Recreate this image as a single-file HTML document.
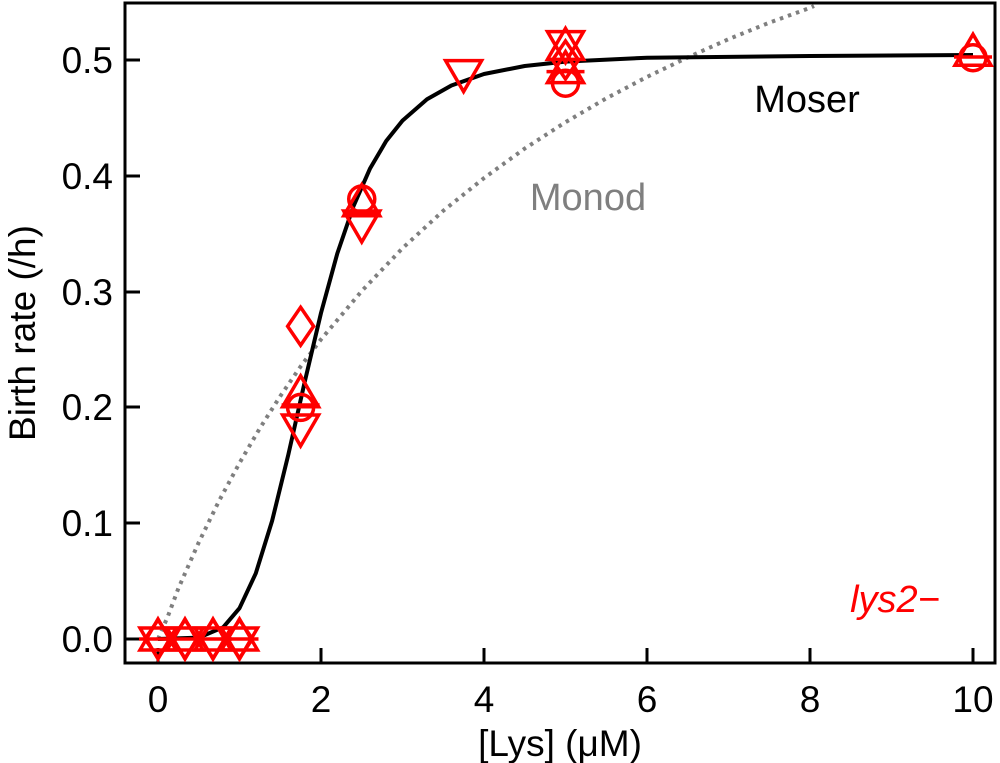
<!DOCTYPE html>
<html><head><meta charset="utf-8"><style>body{margin:0;background:#fff}svg{display:block}text{font-family:"Liberation Sans",Arial,sans-serif}</style></head><body>
<svg width="1000" height="763" viewBox="0 0 1000 763" xmlns="http://www.w3.org/2000/svg">
<defs>
<path id="up" d="M0 -20L18 11L-18 11Z" fill="none" stroke="#ff0000" stroke-width="3.5"/>
<path id="dn" d="M0 20L18 -11L-18 -11Z" fill="none" stroke="#ff0000" stroke-width="3.5"/>
<path id="di" d="M0 -19L13 0L0 19L-13 0Z" fill="none" stroke="#ff0000" stroke-width="3.5"/>
<circle id="ci" r="13" fill="none" stroke="#ff0000" stroke-width="3.5"/>
<line id="ln" x1="-19" x2="19" y1="0" y2="0" stroke="#ff0000" stroke-width="3.5"/>
</defs>
<rect x="125" y="3" width="870" height="660" fill="none" stroke="#000" stroke-width="3"/>
<g stroke="#000" stroke-width="3">
<line x1="158" y1="663" x2="158" y2="648"/><line x1="321" y1="663" x2="321" y2="648"/><line x1="484" y1="663" x2="484" y2="648"/><line x1="647" y1="663" x2="647" y2="648"/><line x1="810" y1="663" x2="810" y2="648"/><line x1="973" y1="663" x2="973" y2="648"/>
<line x1="125" y1="639" x2="140" y2="639"/><line x1="125" y1="523" x2="140" y2="523"/><line x1="125" y1="407" x2="140" y2="407"/><line x1="125" y1="292" x2="140" y2="292"/><line x1="125" y1="176" x2="140" y2="176"/><line x1="125" y1="60" x2="140" y2="60"/>
</g>
<g font-size="37" text-anchor="middle">
<text x="158" y="712">0</text><text x="321" y="712">2</text><text x="484" y="712">4</text><text x="647" y="712">6</text><text x="810" y="712">8</text><text x="973" y="712">10</text>
</g>
<g font-size="37" text-anchor="end">
<text x="113" y="652">0.0</text><text x="113" y="536">0.1</text><text x="113" y="420">0.2</text><text x="113" y="305">0.3</text><text x="113" y="189">0.4</text><text x="113" y="73">0.5</text>
</g>
<text x="560" y="756" font-size="37" text-anchor="middle">[Lys] (μM)</text>
<text transform="translate(35,333) rotate(-90)" font-size="37" text-anchor="middle">Birth rate (/h)</text>
<text x="807" y="112" font-size="38" text-anchor="middle">Moser</text>
<text x="588" y="210" font-size="38" text-anchor="middle" fill="#7f7f7f">Monod</text>
<text x="895" y="612" font-size="38" text-anchor="middle" fill="#ff0000" font-style="italic">lys2−</text>
<polyline fill="none" stroke="#7f7f7f" stroke-width="4" stroke-dasharray="3.5,5" points="158,639 168,616 178.4,588.3 198.75,542.4 219,501 239.5,463 260,428 280.25,396.2 300.6,366.5 321,339.4 361.75,291 402.5,248.2 443,211 484,178.1 524.75,148.5 565.5,122.2 606,98.5 647,76.9 688,57.3 728.5,39.2 769,22.8 810,7.9 814,6"/>
<polyline fill="none" stroke="#000" stroke-width="4" stroke-linejoin="round" points="158,639 198.75,637.6 223.2,627.3 239.5,608.2 255.8,573.3 272.1,520.9 288.4,454.3 304.7,382 321,313 337.3,253.5 353.6,205.9 369.9,168.8 386.2,141 402.5,120.6 427,99.3 451.4,85.5 484,74 524.75,66 565.5,61.6 647,57.7 810,56 973,55"/>
<use href="#up" x="158" y="639"/><use href="#dn" x="158" y="639"/><use href="#di" x="158" y="639"/><use href="#ln" x="158" y="639"/>
<use href="#up" x="185" y="639"/><use href="#dn" x="185" y="639"/><use href="#di" x="185" y="639"/><use href="#ln" x="185" y="639"/>
<use href="#up" x="213" y="639"/><use href="#dn" x="213" y="639"/><use href="#di" x="213" y="639"/><use href="#ln" x="213" y="639"/>
<use href="#up" x="239.5" y="639"/><use href="#dn" x="239.5" y="639"/><use href="#di" x="239.5" y="639"/><use href="#ln" x="239.5" y="639"/>
<use href="#di" x="300.6" y="326.3"/><use href="#up" x="300.6" y="395.8"/><use href="#ci" x="300.6" y="407.4"/><use href="#dn" x="300.6" y="426"/><use href="#ln" x="300.6" y="405"/>
<use href="#ci" x="361.75" y="199"/><use href="#up" x="361.75" y="204.7"/><use href="#dn" x="361.75" y="222"/><use href="#ln" x="361.75" y="214"/>
<use href="#dn" x="463.6" y="71.6"/>
<use href="#dn" x="565.5" y="42.6"/><use href="#up" x="565.5" y="48.4"/><use href="#di" x="565.5" y="60"/><use href="#ci" x="565.5" y="83.2"/><use href="#up" x="565.5" y="71.6"/><use href="#ln" x="565.5" y="71.6"/>
<use href="#up" x="973" y="54.2"/><use href="#ci" x="973" y="57.7"/><use href="#ln" x="973" y="57"/>
</svg>
</body></html>
